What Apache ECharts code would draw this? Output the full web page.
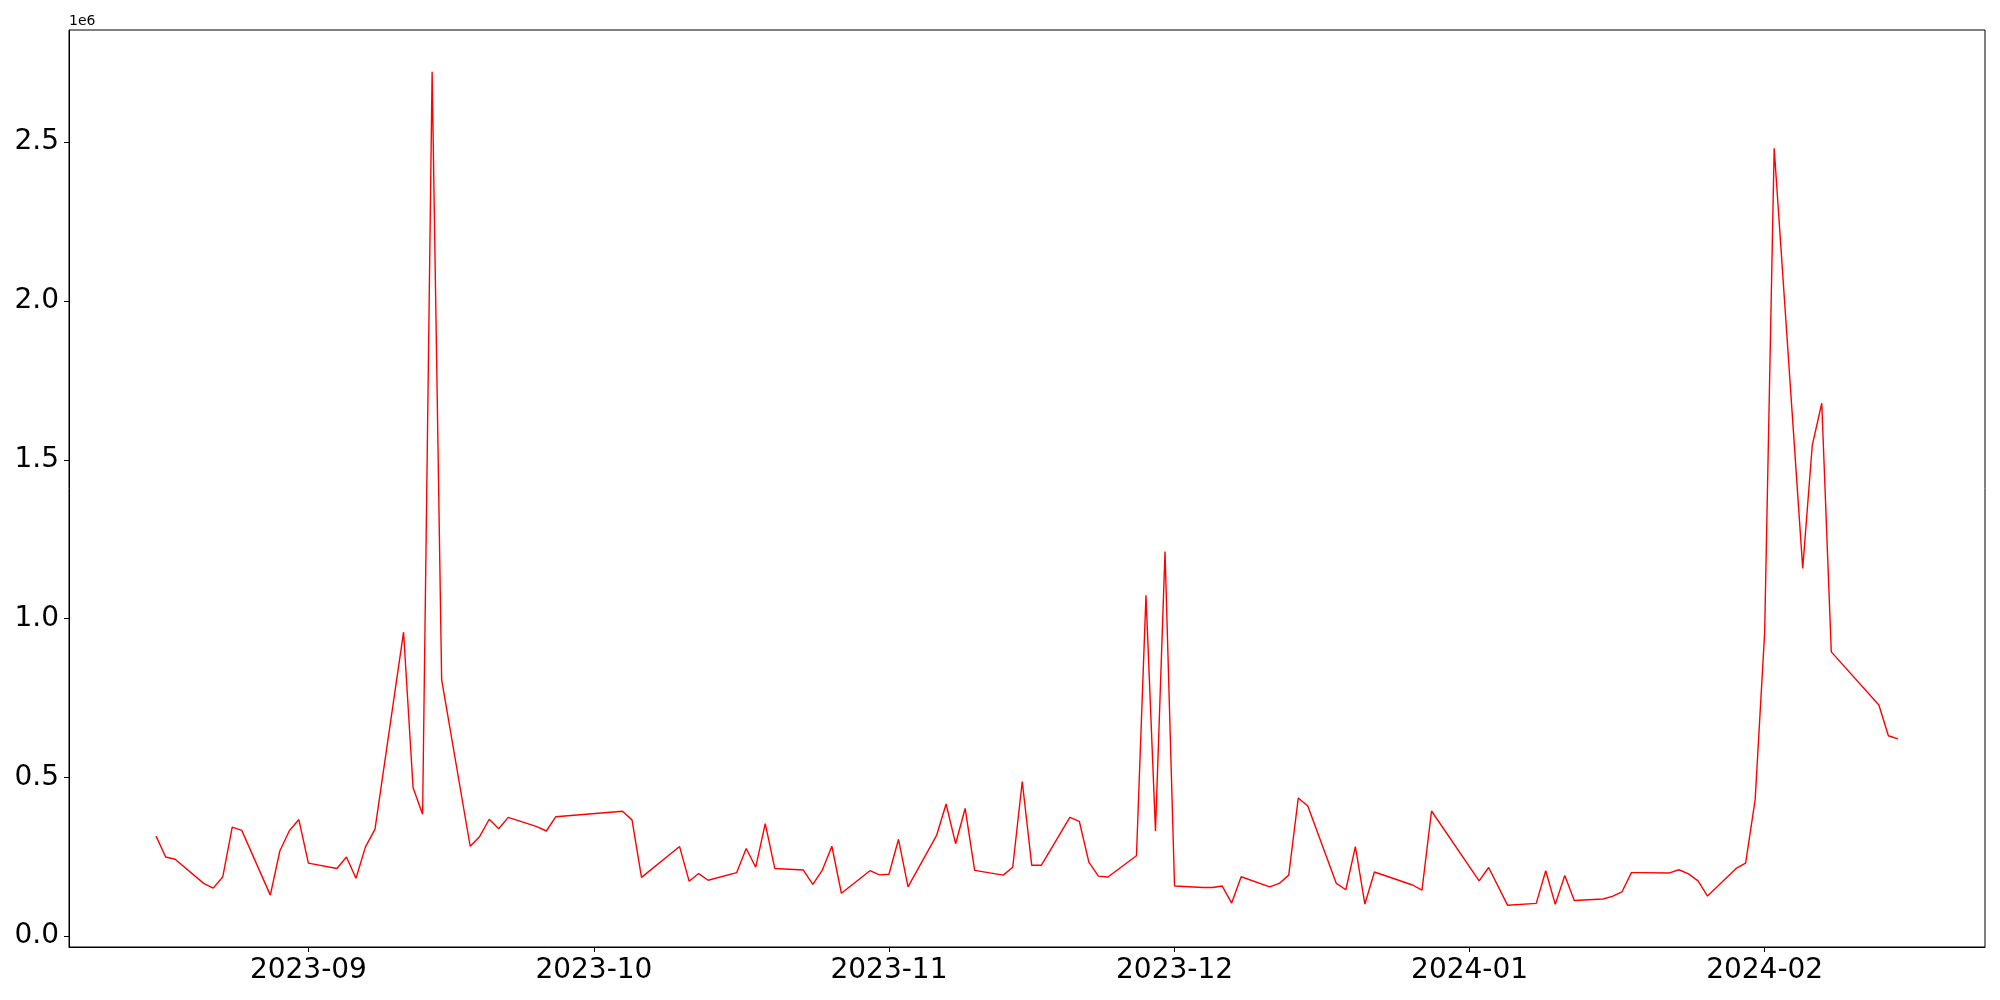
<!DOCTYPE html>
<html>
<head>
<meta charset="utf-8">
<script src="https://cdn.jsdelivr.net/npm/echarts@6/dist/echarts.min.js"></script>
<style>html,body{margin:0;padding:0;background:#fff;}#c{width:2000px;height:1000px;}</style>
</head>
<body>
<div id="c"></div>
<script>
const dates = [
'2023-08-16','2023-08-17','2023-08-18','2023-08-21','2023-08-22','2023-08-23','2023-08-24','2023-08-25','2023-08-28','2023-08-29','2023-08-30','2023-08-31',
'2023-09-01','2023-09-04','2023-09-05','2023-09-06','2023-09-07','2023-09-08','2023-09-11','2023-09-12','2023-09-13','2023-09-14','2023-09-15',
'2023-09-18','2023-09-19','2023-09-20','2023-09-21','2023-09-22','2023-09-25','2023-09-26','2023-09-27',
'2023-10-04','2023-10-05','2023-10-06','2023-10-10','2023-10-11','2023-10-12','2023-10-13','2023-10-16','2023-10-17','2023-10-18','2023-10-19','2023-10-20',
'2023-10-23','2023-10-24','2023-10-25','2023-10-26','2023-10-27','2023-10-30','2023-10-31',
'2023-11-01','2023-11-02','2023-11-03','2023-11-06','2023-11-07','2023-11-08','2023-11-09','2023-11-10','2023-11-13','2023-11-14','2023-11-15','2023-11-16','2023-11-17',
'2023-11-20','2023-11-21','2023-11-22','2023-11-23','2023-11-24','2023-11-27','2023-11-28','2023-11-29','2023-11-30',
'2023-12-01','2023-12-04','2023-12-05','2023-12-06','2023-12-07','2023-12-08','2023-12-11','2023-12-12','2023-12-13','2023-12-14','2023-12-15',
'2023-12-18','2023-12-19','2023-12-20','2023-12-21','2023-12-22','2023-12-26','2023-12-27','2023-12-28',
'2024-01-02','2024-01-03','2024-01-05','2024-01-08','2024-01-09','2024-01-10','2024-01-11','2024-01-12','2024-01-15','2024-01-16','2024-01-17','2024-01-18','2024-01-19',
'2024-01-22','2024-01-23','2024-01-24','2024-01-25','2024-01-26','2024-01-29','2024-01-30','2024-01-31',
'2024-02-01','2024-02-02','2024-02-05','2024-02-06','2024-02-07','2024-02-08','2024-02-13','2024-02-14','2024-02-15'
];
const values = [
315000,249000,242000,166000,151000,186000,343000,333000,129000,268000,332000,367000,
230000,213000,249000,182000,281000,337000,957000,467000,384000,2722000,808000,
283000,314000,368000,338000,374000,345000,331000,376000,
393000,366000,185000,282000,173000,197000,176000,200000,276000,217000,354000,213000,
208000,163000,208000,283000,135000,206000,193000,
195000,305000,155000,317000,416000,291000,402000,207000,192000,217000,487000,223000,223000,
374000,361000,233000,189000,186000,253000,1073000,330000,1211000,
158000,153000,153000,158000,104000,187000,155000,166000,192000,435000,410000,
166000,146000,282000,101000,202000,161000,145000,394000,
174000,216000,97000,103000,206000,100000,191000,112000,117000,125000,139000,200000,200000,
199000,209000,196000,174000,126000,213000,230000,429000,
956000,2481000,1158000,1545000,1678000,895000,728000,631000,621000
];
const xTickDates = ['2023-09-01','2023-10-01','2023-11-01','2023-12-01','2024-01-01','2024-02-01'];
const yTickValues = [0, 500000, 1000000, 1500000, 2000000, 2500000];
const offsetText = '1e6';

const ts = s => new Date(s + 'T00:00:00Z').getTime();
const data = dates.map((d, i) => [ts(d), values[i]]);
const xFirst = ts(dates[0]), xLast = ts(dates[dates.length - 1]);
const xPad = (xLast - xFirst) * 0.05;
const vMin = Math.min(...values), vMax = Math.max(...values);
const yPad = (vMax - vMin) * 0.05;
const xTicks = xTickDates.map(ts);
const font = 'DejaVu Sans';

const chart = echarts.init(document.getElementById('c'), null, {renderer: 'canvas'});
chart.setOption({
  animation: false,
  backgroundColor: '#fff',
  grid: {left: 69, right: 15, top: 30, bottom: 53, show: true, borderColor: '#000', borderWidth: 1, containLabel: false},
  xAxis: {
    type: 'value', scale: true,
    min: xFirst - xPad, max: xLast + xPad,
    splitLine: {show: false},
    axisLine: {show: true, onZero: false, lineStyle: {color: '#000', width: 1}},
    axisTick: {show: true, length: 5, lineStyle: {color: '#000', width: 1}, customValues: xTicks},
    axisLabel: {
      customValues: xTicks, margin: 10, color: '#000', fontFamily: font, fontSize: 28,
      formatter: v => { const d = new Date(v); return d.getUTCFullYear() + '-' + String(d.getUTCMonth() + 1).padStart(2, '0'); }
    }
  },
  yAxis: {
    type: 'value',
    min: vMin - yPad, max: vMax + yPad,
    splitLine: {show: false},
    axisLine: {show: true, onZero: false, lineStyle: {color: '#000', width: 1}},
    axisTick: {show: true, length: 5, lineStyle: {color: '#000', width: 1}, customValues: yTickValues},
    axisLabel: {customValues: yTickValues, margin: 10, color: '#000', fontFamily: font, fontSize: 28,
      formatter: v => (v / 1e6).toFixed(1)}
  },
  graphic: [{type: 'text', left: 69, top: 14, style: {text: offsetText, font: '14px "DejaVu Sans"', fill: '#000'}}],
  series: [{
    type: 'line', data: data, showSymbol: false, symbol: 'none',
    lineStyle: {color: '#ff0000', width: 1.4}, itemStyle: {color: '#ff0000'}
  }]
});
</script>
</body>
</html>
